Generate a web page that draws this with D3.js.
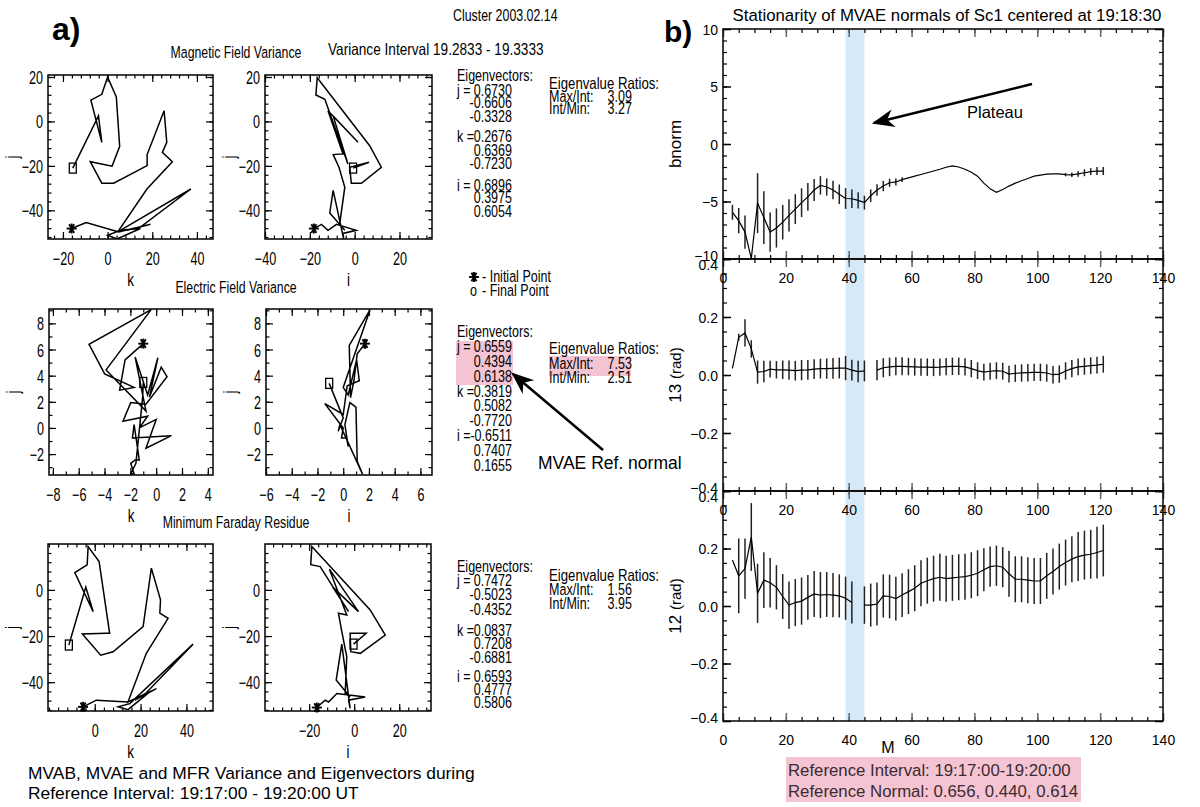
<!DOCTYPE html>
<html>
<head>
<meta charset="utf-8">
<script src="https://cdn.jsdelivr.net/npm/d3@7"></script>
<style>
  body { margin: 0; background: #fff; }
  svg { display: block; }
</style>
</head>
<body>
<svg id="chart" width="1200" height="807"></svg>
<script>
// hodogram paths [x, y], first point = initial (*), last = final (square)
const magKJ = [[-16.1,-48.2],[-9.6,-45.5],[5.0,-49.7],[19.2,-46.3],[8.7,-49.0],[14.7,-47.5],[37.3,-30.4],[5.7,-49.0],[0,-51.2],[4.2,-52.9],[14.7,-48.2],[5.0,-49.0],[17.7,-30.3],[29.0,-18.1],[24.5,-13.9],[26.5,-9.4],[25.3,4.8],[17.7,-14.9],[17.7,-19.9],[2.7,-27.8],[-2.6,-27.8],[-7.8,-18.1],[2.0,-20.1],[5.4,-11.2],[3.9,11.0],[0,20.0],[-2.6,12.2],[-7.5,9.6],[-2.6,-9.4],[-4.1,2.5],[-15.6,-21.0]];
const magIJ = [[-18.2,-48.2],[-14.8,-46.3],[-11.9,-49.0],[-8.1,-46.3],[0.7,-49.0],[-5.2,-50.4],[-4.9,-52.9],[-9.6,-31.0],[-11.1,-41.2],[-4.4,-49.0],[-6.7,-46.3],[-4.4,-29.6],[-7.0,-20.6],[-9.6,-14.9],[-5.2,-14.6],[-11.9,4.8],[1.5,-9.4],[-9.6,2.5],[-3.0,-19.1],[-13.3,10.0],[-17.3,11.9],[-16.7,19.7],[6.7,-10.9],[11.9,-20.6],[3.0,-27.8],[-1.5,-27.8],[-2.2,-20.6],[6.4,-18.4],[-0.7,-21.0]];
const elecKJ = [[-1.0,6.45],[-2.41,5.21],[-2.83,2.89],[-1.71,3.10],[-3.99,4.13],[-5.20,6.40],[-0.39,9.05],[-3.88,4.44],[-0.79,1.29],[-1.63,5.42],[-0.66,2.53],[0.13,5.37],[-0.52,2.37],[0.39,4.65],[0.84,3.92],[-0.79,1.81],[-1.97,1.94],[-2.57,0.52],[-0.66,0.90],[-1.31,0],[0,0.65],[-0.79,-1.55],[1.18,-0.59],[-1.84,-0.77],[-1.71,0.26],[-1.31,-2.45],[-1.63,-2.45],[-1.97,-2.71],[-1.71,-3.5],[-1.97,-3.5],[-1.57,-2.71],[-1.05,2.32],[-1.0,3.48]];
const elecIJ = [[1.69,6.45],[1.09,5.68],[0.83,3.61],[0.57,2.32],[0.47,6.32],[2.08,9.03],[0,3.10],[0.39,2.53],[1.04,5.21],[1.25,3.61],[0.31,3.23],[0,1.03],[-1.43,1.86],[0,0],[-0.13,-0.77],[0.26,-0.77],[0.39,-1.42],[0.13,0.26],[0.52,1.94],[0.99,1.60],[1.09,-2.58],[1.51,-3.55],[-0.26,0.26],[-0.39,-0.26],[0,0.77],[-1.09,3.41]];
const mfrKJ = [[-5.1,-50.7],[0.7,-47.8],[14.5,-48.6],[26.9,-42.8],[17.5,-47.8],[22.5,-44.6],[42.9,-23.5],[15.3,-49.3],[10.2,-50.7],[14.5,-51.9],[24.0,-44.2],[14.5,-48.6],[22.5,-27.5],[32.0,-12.3],[28.4,-10.1],[28.7,-4.3],[24.7,9.4],[21.1,-15.9],[8.0,-26.8],[2.6,-28.3],[-5.4,-19.1],[4.8,-18.8],[6.5,-18.8],[1.9,12.3],[-2.9,18.8],[-3.3,10.9],[-8.7,7.5],[-0.7,-9.4],[-3.9,1.2],[-11.3,-23.9]];
const mfrIJ = [[-16.6,-51.0],[-12.9,-47.8],[-11.4,-48.6],[-7.7,-44.9],[4.9,-46.4],[-2.5,-47.8],[-1.8,-51.4],[-5.5,-23.5],[-8.0,-39.1],[-1.8,-46.4],[-4.0,-44.9],[-3.3,-29.0],[-5.5,-18.1],[-7.0,-10.1],[-3.3,-10.9],[-11.0,9.0],[1.9,-9.4],[-9.5,1.2],[-2.5,-9.4],[-15.1,10.1],[-19.3,10.9],[-18.8,18.8],[7.1,-8.7],[13.8,-19.6],[2.7,-27.5],[-1.5,-26.8],[-1.8,-18.8],[5.3,-18.8],[-0.3,-23.5]];

const hodoTitles = ["Magnetic Field Variance", "Electric Field Variance", "Minimum Faraday Residue"];
const eigVectors = [
  [["j =","0.6730"],["","-0.6606"],["","-0.3328"],["k =","0.2676"],["","0.6369"],["","-0.7230"],["i =","0.6896"],["","0.3975"],["","0.6054"]],
  [["j =","0.6559"],["","0.4394"],["","0.6138"],["k =","0.3819"],["","0.5082"],["","-0.7720"],["i =","-0.6511"],["","0.7407"],["","0.1655"]],
  [["j =","0.7472"],["","-0.5023"],["","-0.4352"],["k =","0.0837"],["","0.7208"],["","-0.6881"],["i =","0.6593"],["","0.4777"],["","0.5806"]]
];
const eigRatios = [["3.09","3.27"],["7.53","2.51"],["1.56","3.95"]];

// stationarity series, M = window length
const mIndex = [3,5,7,9,11,13,15,17,19,21,23,25,27,29,31,33,35,37,39,41,43,45,47,49,51,53,55,57,59,61,63,65,67,69,71,73,75,77,79,81,83,85,87,89,91,93,95,97,99,101,103,105,107,109,111,113,115,117,119,121];
const bnorm = [-5.94,-6.66,-7.66,-9.95,-5.14,-6.4,-7.66,-7.3,-6.8,-6.2,
  -5.66,-5.1,-4.6,-4.0,-3.6,-3.74,-4.0,-4.37,-4.74,-4.76,
  -4.9,-5.1,-4.5,-4.0,-3.66,-3.37,-3.3,-3.1,-2.95,-2.8,
  -2.65,-2.5,-2.35,-2.2,-2.02,-1.9,-2.0,-2.2,-2.45,-2.8,
  -3.4,-3.9,-4.2,-3.95,-3.66,-3.4,-3.2,-3.0,-2.8,-2.7,
  -2.62,-2.6,-2.6,-2.66,-2.68,-2.6,-2.5,-2.4,-2.35,-2.35];
const bnormErr = [0.65,1.1,1.45,0.3,2.6,2.3,1.7,1.7,1.5,1.4,
  1.3,1.25,1.2,0.95,0.8,0.75,0.8,0.85,0.9,0.8,
  0.7,0.6,0.55,0.5,0.45,0.35,0.3,0.2,0,0,
  0,0,0,0,0,0,0,0,0,0,
  0,0,0,0,0,0,0,0,0,0,
  0,0,0,0.15,0.2,0.25,0.3,0.3,0.35,0.35];
const theta13 = [0.023,0.13,0.145,0.09,0.01,0.012,0.02,0.018,0.018,0.017,
  0.015,0.017,0.018,0.02,0.022,0.022,0.023,0.024,0.024,0.017,
  0.012,0.014,null,0.017,0.025,0.028,0.03,0.03,0.029,0.028,
  0.027,0.027,0.026,0.027,0.029,0.03,0.03,0.028,0.022,0.015,
  0.01,0.013,0.015,0.013,0.003,0.006,0.007,0.008,0.009,0.009,
  0.007,0.001,0.003,0.014,0.022,0.028,0.03,0.032,0.034,0.037];
const theta13Err = [0,0.012,0.047,0.03,0.04,0.037,0.029,0.03,0.032,0.033,
  0.034,0.035,0.034,0.034,0.034,0.035,0.036,0.036,0.042,0.036,
  0.037,0.036,null,0.035,0.033,0.032,0.031,0.031,0.03,0.03,
  0.03,0.03,0.03,0.03,0.03,0.03,0.03,0.03,0.03,0.029,
  0.029,0.029,0.029,0.029,0.029,0.03,0.03,0.03,0.03,0.03,
  0.03,0.03,0.03,0.03,0.03,0.029,0.029,0.029,0.029,0.029];
const theta12 = [0.16,0.105,0.13,0.24,0.044,0.09,0.081,0.065,0.033,0.003,
  0.012,0.017,0.03,0.042,0.038,0.04,0.038,0.035,0.027,0.012,
  null,0.003,0.003,0.007,0.035,0.033,0.026,0.038,0.05,0.062,
  0.079,0.088,0.095,0.1,0.095,0.098,0.1,0.102,0.107,0.114,
  0.126,0.137,0.14,0.135,0.112,0.093,0.093,0.09,0.087,0.087,
  0.105,0.12,0.137,0.151,0.163,0.172,0.177,0.18,0.186,0.193];
const theta12Err = [0,0.13,0.105,0.118,0.103,0.097,0.086,0.077,0.078,0.082,
  0.082,0.082,0.078,0.08,0.08,0.078,0.077,0.075,0.075,0.073,
  null,0.065,0.075,0.075,0.075,0.076,0.076,0.076,0.078,0.08,
  0.08,0.08,0.08,0.082,0.08,0.08,0.08,0.08,0.08,0.08,
  0.075,0.07,0.07,0.07,0.08,0.08,0.08,0.08,0.08,0.08,
  0.08,0.08,0.08,0.08,0.08,0.085,0.085,0.085,0.09,0.09];
const plateauBand = [39, 45];
const xTicksM = [0, 20, 40, 60, 80, 100, 120, 140];

const SANS = "'Liberation Sans',Arial,sans-serif";
const svg = d3.select("#chart");
svg.append("rect").attr("width", 1200).attr("height", 807).attr("fill", "#fff");

// condensed text helper (the original uses a narrow face, so squeeze a normal one)
function nt(sel, x, y, str, size, anchor, sx) {
    return sel.append("text")
        .attr("transform", `translate(${x},${y}) scale(${sx || 0.76},1)`)
        .attr("font-family", SANS)
        .attr("font-size", size || 16.5)
        .attr("text-anchor", anchor || "start")
        .text(str);
}

const defs = svg.append("defs");
defs.append("marker")
    .attr("id", "head")
    .attr("viewBox", "0 0 10 10")
    .attr("refX", 9).attr("refY", 5)
    .attr("markerWidth", 9).attr("markerHeight", 9)
    .attr("orient", "auto")
  .append("path")
    .attr("d", "M0,1 L10,5 L0,9 L3,5 Z")
    .attr("fill", "#000");

// ---------- left: hodograms ----------
function star(g, cx, cy) {
    const r = 5;
    [0, 60, 120, 90].forEach(a => {
        const t = a * Math.PI / 180;
        g.append("line")
            .attr("x1", cx - r * Math.cos(t)).attr("y1", cy - r * Math.sin(t))
            .attr("x2", cx + r * Math.cos(t)).attr("y2", cy + r * Math.sin(t))
            .attr("stroke", "#000").attr("stroke-width", 1.9);
    });
}

const TSX = 0.7;  // squeeze for tick labels
function hodo(p, idx) {
    const x = d3.scaleLinear().domain(p.xDom).range([p.x0, p.x1]);
    const y = d3.scaleLinear().domain(p.yDom).range([p.y1, p.y0]);
    const g = svg.append("g");

    defs.append("clipPath").attr("id", "hc" + idx)
      .append("rect").attr("x", p.x0).attr("y", p.y0)
      .attr("width", p.x1 - p.x0).attr("height", p.y1 - p.y0);

    g.append("path")
        .datum(p.data)
        .attr("clip-path", "url(#hc" + idx + ")")
        .attr("d", d3.line().x(d => x(d[0])).y(d => y(d[1])))
        .attr("fill", "none")
        .attr("stroke", "#000")
        .attr("stroke-width", 1.5);

    const first = p.data[0], last = p.data[p.data.length - 1];
    star(g, x(first[0]), y(first[1]));
    g.append("rect")
        .attr("x", x(last[0]) - 3.5).attr("y", y(last[1]) - 5)
        .attr("width", 7).attr("height", 10)
        .attr("fill", "none").attr("stroke", "#000").attr("stroke-width", 1.3);

    const xMinor = d3.range(Math.ceil(p.xDom[0] / p.xm) * p.xm, p.xDom[1], p.xm);
    const yMinor = d3.range(Math.ceil(p.yDom[0] / p.ym) * p.ym, p.yDom[1], p.ym);

    const axes = [
        [d3.axisBottom(x), `translate(0,${p.y1})`, xMinor, p.xTicks, "b"],
        [d3.axisTop(x), `translate(0,${p.y0})`, xMinor, p.xTicks, ""],
        [d3.axisLeft(y), `translate(${p.x0},0)`, yMinor, p.yTicks, "l"],
        [d3.axisRight(y), `translate(${p.x1},0)`, yMinor, p.yTicks, ""]
    ];
    axes.forEach(([ax, tr, minor, major, lab]) => {
        g.append("g").attr("transform", tr)
            .call(ax.tickValues(minor).tickSize(-3.5).tickFormat(""))
            .call(a => a.select(".domain").remove())
            .selectAll("line").attr("stroke-width", 1.2);
        const m = g.append("g").attr("transform", tr)
            .call(ax.tickValues(major).tickSize(-7).tickFormat(lab ? d3.format("d") : ""))
            .call(a => a.select(".domain").remove());
        m.selectAll("line").attr("stroke-width", 1.2);
        m.attr("font-family", SANS).attr("font-size", 18);
        m.selectAll("text").attr("fill", "#000").attr("transform", `scale(${TSX},1)`);
        if (lab === "b") m.selectAll("text").attr("y", 26).attr("dy", null);
        if (lab === "l") m.selectAll("text").attr("x", -5 / TSX).attr("dy", "0.36em");
    });

    g.append("rect")
        .attr("x", p.x0).attr("y", p.y0)
        .attr("width", p.x1 - p.x0).attr("height", p.y1 - p.y0)
        .attr("fill", "none").attr("stroke", "#000").attr("stroke-width", 1.5);

    nt(g, (p.x0 + p.x1) / 2, p.y1 + 47, p.xLabel, 18, "middle", 0.75);
    g.append("text")
        .attr("transform", `translate(${p.x0 - 30},${(p.y0 + p.y1) / 2}) rotate(-90) scale(0.75,1)`)
        .attr("text-anchor", "middle")
        .attr("font-family", SANS).attr("font-size", 18)
        .text("j");
}

const hodos = [
    {data: magKJ, x0: 48, x1: 213, y0: 75, y1: 239, xDom: [-26.7, 47.2], yDom: [-52.9, 20.9], xTicks: [-20, 0, 20, 40], yTicks: [-40, -20, 0, 20], xm: 4, ym: 4, xLabel: "k"},
    {data: magIJ, x0: 265, x1: 432, y0: 75, y1: 239, xDom: [-40, 34.5], yDom: [-52.9, 20.9], xTicks: [-40, -20, 0, 20], yTicks: [-40, -20, 0, 20], xm: 4, ym: 4, xLabel: "i"},
    {data: elecKJ, x0: 49, x1: 213, y0: 309, y1: 475, xDom: [-8.3, 4.4], yDom: [-3.6, 9.1], xTicks: [-8, -6, -4, -2, 0, 2, 4], yTicks: [-2, 0, 2, 4, 6, 8], xm: 1, ym: 1, xLabel: "k"},
    {data: elecIJ, x0: 266, x1: 432, y0: 309, y1: 475, xDom: [-6.0, 6.9], yDom: [-3.6, 9.1], xTicks: [-6, -4, -2, 0, 2, 4, 6], yTicks: [-2, 0, 2, 4, 6, 8], xm: 1, ym: 1, xLabel: "i"},
    {data: mfrKJ, x0: 48, x1: 213, y0: 544, y1: 711, xDom: [-20.4, 51.6], yDom: [-52.5, 19.9], xTicks: [0, 20, 40], yTicks: [-40, -20, 0], xm: 4, ym: 4, xLabel: "k"},
    {data: mfrIJ, x0: 265, x1: 431, y0: 544, y1: 711, xDom: [-39.6, 34.1], yDom: [-52.5, 19.9], xTicks: [-20, 0, 20], yTicks: [-40, -20, 0], xm: 4, ym: 4, xLabel: "i"}
];
hodos.forEach((p, i) => hodo(p, i));

const titleY = [58, 293, 528];
hodoTitles.forEach((t, i) => nt(svg, 236, titleY[i], t, 16.5, "middle", 0.745));

svg.append("text").attr("x", 52).attr("y", 40)
    .attr("font-family", SANS).attr("font-weight", "bold").attr("font-size", 32).text("a)");
nt(svg, 453, 21, "Cluster 2003.02.14", 16.5, "start", 0.75);
nt(svg, 328, 55, "Variance Interval  19.2833 - 19.3333", 16.5, "start", 0.826);

// eigenvector blocks
const blockTop = [81, 337, 572];
const lineOffsets = [
    [15, 27, 41, 61, 75, 88, 110, 122, 136],
    [15, 30, 45, 60, 74, 89, 104, 119, 134],
    [14, 28, 43, 64, 77, 91, 110, 123, 136]
];
const ratioTop = [89, 354, 581];
const ratioStep = [12.5, 14.5, 14];

// highlights (MVAE reference normal)
svg.append("rect").attr("x", 456).attr("y", 341).attr("width", 57).attr("height", 44).attr("fill", "#f4c4d2");
svg.append("rect").attr("x", 549).attr("y", 356).attr("width", 82).attr("height", 20).attr("fill", "#f4c4d2");

eigVectors.forEach((rows, b) => {
    const g = svg.append("g");
    nt(g, 457, blockTop[b], "Eigenvectors:");
    rows.forEach((r, k) => {
        const yy = blockTop[b] + lineOffsets[b][k];
        if (r[0]) nt(g, 457, yy, r[0]);
        nt(g, 512, yy, r[1], 16.5, "end");
    });
    const ry = ratioTop[b], st = ratioStep[b];
    nt(g, 549, ry, "Eigenvalue Ratios:", 16.5, "start", 0.8);
    nt(g, 549, ry + st, "Max/Int:");
    nt(g, 632, ry + st, eigRatios[b][0], 16.5, "end");
    nt(g, 549, ry + 2 * st, "Int/Min:");
    nt(g, 632, ry + 2 * st, eigRatios[b][1], 16.5, "end");
});

// legend for markers
star(svg, 474, 277);
nt(svg, 482, 282, "- Initial Point");
nt(svg, 470, 296, "o");
nt(svg, 482, 296, "- Final Point");

svg.append("line").attr("x1", 603).attr("y1", 450).attr("x2", 513).attr("y2", 374)
    .attr("stroke", "#000").attr("stroke-width", 2.5).attr("marker-end", "url(#head)");
svg.append("text").attr("x", 538).attr("y", 469).attr("font-family", SANS).attr("font-size", 17.5).text("MVAE Ref. normal");

svg.append("text").attr("x", 28).attr("y", 779).attr("font-family", SANS).attr("font-size", 17.4)
    .text("MVAB, MVAE and MFR Variance and Eigenvectors during");
svg.append("text").attr("x", 28).attr("y", 799).attr("font-family", SANS).attr("font-size", 17.4)
    .text("Reference Interval: 19:17:00 - 19:20:00 UT");

// ---------- right: stationarity ----------
const rx = d3.scaleLinear().domain([0, 140]).range([723, 1163]);

svg.append("rect")
    .attr("x", rx(plateauBand[0])).attr("y", 29)
    .attr("width", rx(plateauBand[1]) - rx(plateauBand[0])).attr("height", 721 - 29)
    .attr("fill", "#d6e9f8");

const fmtMinus = d => (d < 0 ? "\u2212" : "") + Math.abs(d);
const fmtRad = d => (d < 0 ? "\u2212" : "") + d3.format(".1f")(Math.abs(d));
const panels = [
    {vals: bnorm, err: bnormErr, y0: 29, y1: 259, dom: [-10, 10], major: [-10, -5, 0, 5, 10], minorStep: 1, fmt: fmtMinus},
    {vals: theta13, err: theta13Err, y0: 259, y1: 491, dom: [-0.4, 0.4], major: [-0.4, -0.2, 0, 0.2, 0.4], minorStep: 0.05, fmt: fmtRad},
    {vals: theta12, err: theta12Err, y0: 491, y1: 721, dom: [-0.4, 0.4], major: [-0.4, -0.2, 0, 0.2, 0.4], minorStep: 0.05, fmt: fmtRad}
];

panels.forEach((p, pi) => {
    const y = d3.scaleLinear().domain(p.dom).range([p.y1, p.y0]);
    const g = svg.append("g");
    const pts = mIndex.map((m, i) => ({m: m, v: p.vals[i], e: p.err[i]}));

    defs.append("clipPath").attr("id", "rc" + pi)
      .append("rect").attr("x", 723).attr("y", p.y0).attr("width", 440).attr("height", p.y1 - p.y0);

    g.append("g").attr("clip-path", "url(#rc" + pi + ")")
        .selectAll("line")
        .data(pts.filter(d => d.v != null && d.e > 0))
        .join("line")
        .attr("x1", d => rx(d.m)).attr("x2", d => rx(d.m))
        .attr("y1", d => y(d.v - d.e)).attr("y2", d => y(d.v + d.e))
        .attr("stroke", "#222").attr("stroke-width", 1.5);

    g.append("path")
        .datum(pts)
        .attr("clip-path", "url(#rc" + pi + ")")
        .attr("d", d3.line().defined(d => d.v != null).x(d => rx(d.m)).y(d => y(d.v)))
        .attr("fill", "none").attr("stroke", "#000").attr("stroke-width", 1.2);

    const xMinor = d3.range(0, 141, 5);
    const yMinor = d3.range(p.dom[0], p.dom[1] + 1e-9, p.minorStep);
    const sets = [
        [d3.axisBottom(rx), `translate(0,${p.y1})`, xMinor, xTicksM, "x"],
        [d3.axisTop(rx), `translate(0,${p.y0})`, xMinor, xTicksM, "t"],
        [d3.axisLeft(y), `translate(723,0)`, yMinor, p.major, "y"],
        [d3.axisRight(y), `translate(1163,0)`, yMinor, p.major, ""]
    ];
    sets.forEach(([ax, tr, minor, major, lab]) => {
        g.append("g").attr("transform", tr)
            .call(ax.tickValues(minor).tickSize(-4).tickFormat(""))
            .call(a => a.select(".domain").remove())
            .selectAll("line").attr("stroke-width", 1.2);
        const m = g.append("g").attr("transform", tr)
            .call(ax.tickValues(major).tickSize(-8)
                .tickFormat(lab === "x" ? d3.format("d") : lab === "y" ? p.fmt : ""))
            .call(a => a.select(".domain").remove());
        m.attr("font-family", SANS).attr("font-size", 14);
        m.selectAll("line").attr("stroke", lab === "x" || lab === "t" ? "#666" : "#000").attr("stroke-width", 1.5);
        m.selectAll("text").attr("fill", "#000");
        if (lab === "x") m.selectAll("text").attr("y", 24).attr("dy", null);
        if (lab === "y") {
            m.selectAll("text").attr("x", -5)
                .attr("dy", d => d === p.dom[1] && pi > 0 ? "0.75em" : d === p.dom[0] ? "0.1em" : "0.36em");
        }
    });

    g.append("rect")
        .attr("x", 723).attr("y", p.y0).attr("width", 440).attr("height", p.y1 - p.y0)
        .attr("fill", "none").attr("stroke", "#000").attr("stroke-width", 1.5);
});

svg.append("text").attr("x", 664).attr("y", 42)
    .attr("font-family", SANS).attr("font-weight", "bold").attr("font-size", 30).text("b)");
svg.append("text").attr("x", 947).attr("y", 21).attr("text-anchor", "middle")
    .attr("font-family", SANS).attr("font-size", 16.8)
    .text("Stationarity of MVAE normals of Sc1 centered at 19:18:30");

svg.append("text").attr("transform", "translate(681,144) rotate(-90)").attr("text-anchor", "middle")
    .attr("font-family", SANS).attr("font-size", 17).text("bnorm");
const yLab = [[375, "13"], [606, "12"]];
yLab.forEach(([cy, n]) => {
    const t = svg.append("text").attr("transform", `translate(681,${cy}) rotate(-90)`).attr("text-anchor", "middle")
        .attr("font-family", SANS).attr("font-size", 17);
    t.append("tspan").text(n + "  ");
    t.append("tspan").attr("font-size", 15).text("(rad)");
});
svg.append("text").attr("x", 888).attr("y", 753).attr("text-anchor", "middle")
    .attr("font-family", SANS).attr("font-size", 16).text("M");

svg.append("line").attr("x1", 1032).attr("y1", 84).attr("x2", 874).attr("y2", 123)
    .attr("stroke", "#000").attr("stroke-width", 2.5).attr("marker-end", "url(#head)");
svg.append("text").attr("x", 967).attr("y", 118).attr("font-family", SANS).attr("font-size", 16.5).text("Plateau");

svg.append("rect").attr("x", 786).attr("y", 757).attr("width", 295).attr("height", 45).attr("fill", "#f4c4d2");
svg.append("text").attr("x", 788).attr("y", 776).attr("font-family", SANS).attr("font-size", 16.8).attr("fill", "#3b2a31")
    .text("Reference Interval: 19:17:00-19:20:00");
svg.append("text").attr("x", 788).attr("y", 797).attr("font-family", SANS).attr("font-size", 16.8).attr("fill", "#3b2a31")
    .text("Reference Normal: 0.656, 0.440, 0.614");
</script>
</body>
</html>
